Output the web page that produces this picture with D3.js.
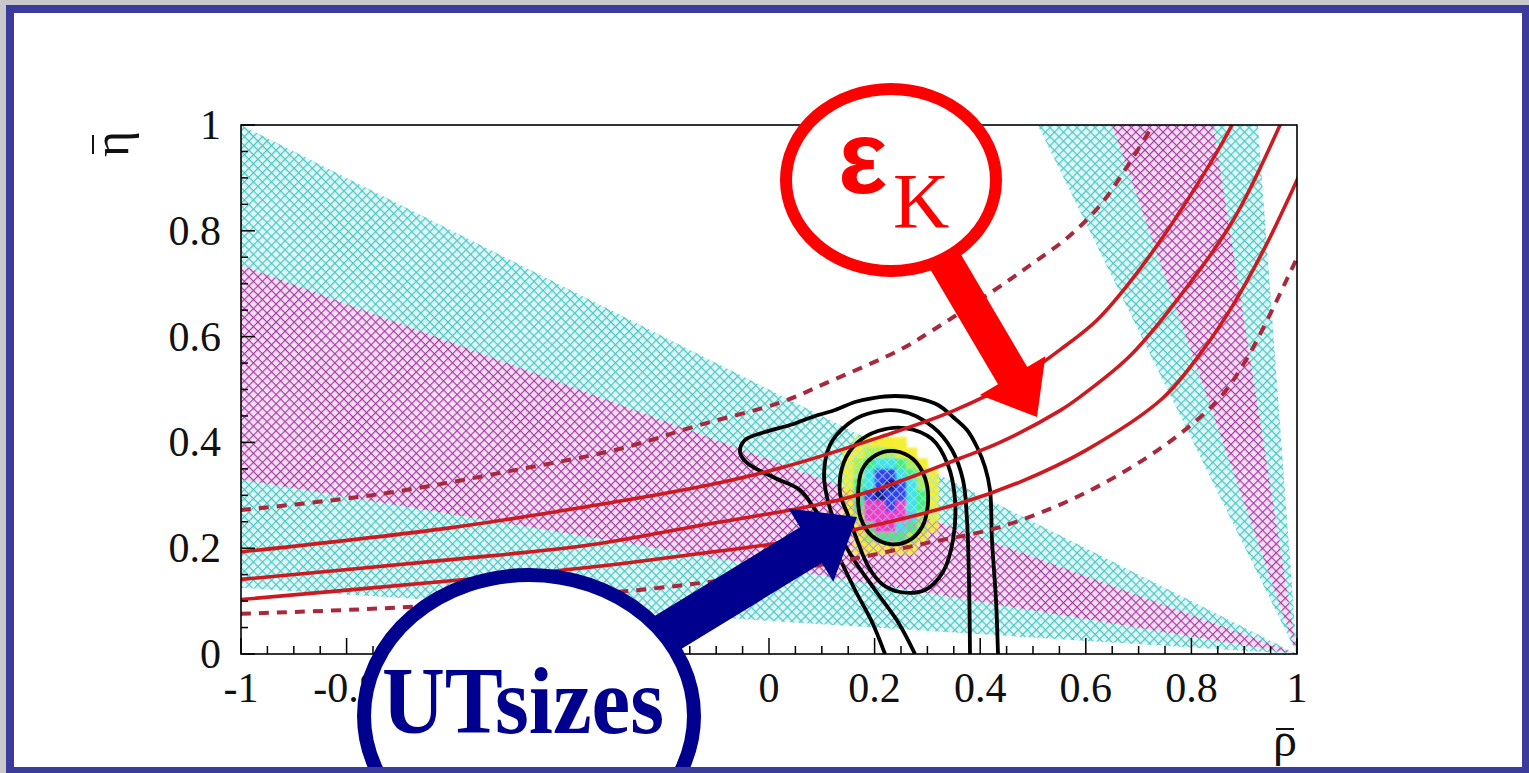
<!DOCTYPE html>
<html><head><meta charset="utf-8">
<script src="https://cdn.jsdelivr.net/npm/d3@7"></script>
<style>html,body{margin:0;padding:0;background:#c8c8cc;overflow:hidden}</style>
</head><body><svg id="c" width="1529" height="773"></svg>
<script>
// ---------------- data (rho-bar, eta-bar) ----------------
const xTickValues = [-1,-0.8,-0.6,-0.4,-0.2,0,0.2,0.4,0.6,0.8,1];
const xTickLabels = ["-1","-0.8","-0.6","-0.4","-0.2","0","0.2","0.4","0.6","0.8","1"];
const yTickValues = [0,0.2,0.4,0.6,0.8,1];
const yTickLabels = ["0","0.2","0.4","0.6","0.8","1"];

// sin2beta bands (95% cyan, 68% magenta), two-fold solutions
const beta95    = [[1,0],[-1,1.0],[-1,0.125]];
const beta68    = [[1,0],[-1,0.735],[-1,0.33]];
const betaAlt95 = [[1,0],[0.509,1],[0.926,1]];
const betaAlt68 = [[1,0],[0.65,1],[0.841,1]];

// epsilon_K curves
const epsKDashUpper = [[-1,0.272],[-0.739,0.302],[-0.479,0.348],[-0.282,0.388],[-0.131,0.433],[0.023,0.476],[0.11,0.513],[0.25,0.576],[0.31,0.612],[0.4375,0.695],[0.5,0.739],[0.564,0.786],[0.627,0.848],[0.678,0.921],[0.727,1.0],[0.76,1.06]];
const epsKSolid1 = [[-1,0.193],[-0.608,0.238],[-0.348,0.278],[-0.131,0.316],[0.023,0.352],[0.21,0.41],[0.35,0.46],[0.475,0.522],[0.551,0.575],[0.62,0.63],[0.689,0.71],[0.784,0.845],[0.877,1.0],[0.9,1.05]];
const epsKSolid2 = [[-1,0.141],[-0.608,0.178],[-0.348,0.205],[-0.131,0.243],[0.097,0.283],[0.2,0.31],[0.362,0.37],[0.4375,0.40],[0.551,0.46],[0.589,0.486],[0.68,0.56],[0.754,0.645],[0.879,0.82],[0.968,1.0],[0.99,1.05]];
const epsKSolid3 = [[-1,0.103],[-0.608,0.138],[-0.348,0.163],[-0.131,0.19],[0.097,0.222],[0.362,0.285],[0.475,0.325],[0.6,0.385],[0.745,0.483],[0.82,0.572],[0.879,0.66],[0.94,0.77],[0.996,0.887],[1.02,0.94]];
const epsKDashLower = [[-1,0.076],[-0.739,0.086],[-0.479,0.102],[-0.218,0.124],[-0.05,0.145],[0.15,0.178],[0.3,0.21],[0.4375,0.24],[0.6,0.305],[0.75,0.395],[0.85,0.48],[0.9,0.55],[0.943,0.63],[0.992,0.732],[1.01,0.77]];

// UTsizes probability contours (black)
const contour1 = [[0.2197,0],[0.1951,0.0605],[0.1629,0.121],[0.1307,0.1871],[0.1042,0.2439],[0.0814,0.2817],[0.0587,0.31],[0.0114,0.3327],[-0.0417,0.3611],[-0.0549,0.3819],[-0.0455,0.4045],[-0.0076,0.4197],[0.0398,0.4329],[0.0871,0.4499],[0.125,0.4612],[0.1629,0.4764],[0.197,0.4839],[0.2386,0.4877],[0.2803,0.4839],[0.3201,0.4707],[0.3485,0.448],[0.375,0.4234],[0.3939,0.3913],[0.4091,0.3535],[0.4186,0.31],[0.4223,0.2155],[0.4299,0.1021],[0.4337,0]];
const contour2 = [[0.2765,0],[0.2443,0.0605],[0.2008,0.121],[0.161,0.1777],[0.1345,0.225],[0.1136,0.2817],[0.1042,0.3384],[0.1155,0.3951],[0.1496,0.4348],[0.1856,0.4537],[0.2481,0.4594],[0.3106,0.4291],[0.3466,0.3856],[0.3674,0.3289],[0.375,0.2533],[0.3788,0.1399],[0.3807,0]];
const contour3 = [[0.1345,0.3043],[0.142,0.3629],[0.1667,0.3989],[0.2064,0.4216],[0.2576,0.4272],[0.3087,0.4064],[0.339,0.3573],[0.3523,0.2911],[0.3485,0.2155],[0.3295,0.155],[0.2955,0.121],[0.2481,0.1172],[0.214,0.1323],[0.1875,0.1664],[0.1667,0.2155],[0.1496,0.2628]];
const contour4 = [[0.1686,0.2968],[0.1761,0.3478],[0.2027,0.3762],[0.2386,0.3837],[0.2727,0.3686],[0.2955,0.3327],[0.3011,0.2854],[0.2898,0.2401],[0.2633,0.2136],[0.2292,0.2079],[0.1951,0.2231],[0.1742,0.2552]];

// combined probability 2D histogram (level per cell)
const blobRho0 = 0.14, blobEtaTop = 0.41, blobBin = 0.02;
const blobLevels = [
  [0,1,1,1,1,1,0,0,0],
  [1,1,2,2,2,1,1,0,0],
  [1,2,3,4,4,3,2,1,0],
  [1,2,4,6,6,4,3,2,1],
  [1,3,4,6,7,6,4,2,1],
  [1,3,6,7,6,6,4,3,1],
  [1,3,5,5,6,5,4,3,1],
  [1,2,5,5,5,5,4,2,1],
  [1,1,3,5,5,4,3,2,1],
  [0,1,2,3,3,3,2,1,0],
  [0,1,1,1,1,1,1,0,0]
];

// ---------------- drawing ----------------
const svg = d3.select('#c');
const x = d3.scaleLinear().domain([-1,1]).range([241,1297]);
const y = d3.scaleLinear().domain([0,1]).range([654,125]);
const defs = svg.append('defs');

function hatch(id, bg, fg, lw){
  const s = 6.4;
  const p = defs.append('pattern').attr('id',id).attr('patternUnits','userSpaceOnUse')
    .attr('width',s).attr('height',s).attr('patternTransform','rotate(45)');
  if (bg) p.append('rect').attr('width',s).attr('height',s).attr('fill',bg);
  p.append('rect').attr('width',s).attr('height',lw).attr('fill',fg);
  p.append('rect').attr('width',lw).attr('height',s).attr('fill',fg);
}
hatch('cyanH','#dcf8f8','#50c4c2',1.2);
hatch('magH','#f9dcf6','#9e3e9e',1.15);
hatch('cyanL',null,'#9aeaea',1.0);
hatch('magL',null,'#d070d0',1.0);

defs.append('clipPath').attr('id','plotClip').append('rect')
  .attr('x',x(-1)).attr('y',y(1)).attr('width',x(1)-x(-1)).attr('height',y(0)-y(1));
defs.append('clipPath').attr('id','innerClip').append('rect')
  .attr('x',14).attr('y',13).attr('width',1508).attr('height',754);
defs.append('filter').attr('id','soft').append('feGaussianBlur').attr('stdDeviation',1.3);

// frame
svg.append('rect').attr('x',0).attr('y',0).attr('width',1529).attr('height',773).attr('fill','#c8c8cc');
svg.append('rect').attr('x',6).attr('y',5).attr('width',1523).attr('height',768).attr('fill','#3b3b9c');
svg.append('rect').attr('x',14).attr('y',13).attr('width',1508).attr('height',754).attr('fill','#ffffff');

const plot = svg.append('g').attr('clip-path','url(#plotClip)');
const poly = d3.line().x(d=>x(d[0])).y(d=>y(d[1]));
const polyClosed = pts => poly(pts) + 'Z';

[[beta95,'cyanH'],[betaAlt95,'cyanH'],[beta68,'magH'],[betaAlt68,'magH']].forEach(([pts,id])=>{
  plot.append('path').attr('d',polyClosed(pts)).attr('fill',`url(#${id})`);
});

// 2D histogram blob
const blobColor = d3.scaleOrdinal().domain([1,2,3,4,5,6,7])
  .range(['#f6ee30','#b0f04a','#44f07a','#40e4e8','#f438c8','#3a3cf0','#14148c']);
const cells = [];
blobLevels.forEach((row,i)=>row.forEach((v,j)=>{ if(v>0) cells.push({r0:blobRho0+j*blobBin, e1:blobEtaTop-i*blobBin, v}); }));
const cellAttrs = sel => sel
  .attr('x',d=>x(d.r0)).attr('y',d=>y(d.e1))
  .attr('width',d=>x(d.r0+blobBin)-x(d.r0)+0.5).attr('height',d=>y(d.e1-blobBin)-y(d.e1)+0.5);
plot.append('g').attr('filter','url(#soft)').selectAll('rect').data(cells).join('rect')
  .call(cellAttrs).attr('fill',d=>blobColor(d.v));
const blobClip = defs.append('clipPath').attr('id','blobClip');
blobClip.selectAll('rect').data(cells).join('rect').call(cellAttrs);

// hatch lines over the histogram
const over = plot.append('g').attr('clip-path','url(#blobClip)');
[[beta95,'cyanL'],[beta68,'magL']].forEach(([pts,id])=>{
  over.append('path').attr('d',polyClosed(pts)).attr('fill',`url(#${id})`).attr('opacity',0.8);
});

// contours
const smooth = d3.line().x(d=>x(d[0])).y(d=>y(d[1])).curve(d3.curveCatmullRom.alpha(0.5));
const smoothClosed = d3.line().x(d=>x(d[0])).y(d=>y(d[1])).curve(d3.curveCatmullRomClosed.alpha(0.5));
[contour1,contour2].forEach(c=>plot.append('path').attr('d',smooth(c)).attr('fill','none').attr('stroke','#000').attr('stroke-width',3.8));
[contour3,contour4].forEach(c=>plot.append('path').attr('d',smoothClosed(c)).attr('fill','none').attr('stroke','#000').attr('stroke-width',3.8));

// eps_K curves
[epsKSolid1,epsKSolid2,epsKSolid3].forEach(c=>plot.append('path').attr('d',smooth(c)).attr('fill','none')
  .attr('stroke','#cc1a20').attr('stroke-width',3.6));
[epsKDashUpper,epsKDashLower].forEach(c=>plot.append('path').attr('d',smooth(c)).attr('fill','none')
  .attr('stroke','#a8283c').attr('stroke-width',4).attr('stroke-dasharray','10,8'));

// axes frame
const ax = svg.append('g').attr('stroke','#000');
ax.append('rect').attr('x',x(-1)).attr('y',y(1)).attr('width',x(1)-x(-1)).attr('height',y(0)-y(1))
  .attr('fill','none').attr('stroke-width',1.6);
const isMajor = d => Math.abs(Math.round(d*5)-d*5)<1e-6;
ax.selectAll('.xt').data(d3.range(-1,1.0001,0.05)).join('line')
  .attr('x1',d=>x(d)).attr('x2',d=>x(d)).attr('y1',y(0))
  .attr('y2',d=>y(0)-(isMajor(d)?16:8)).attr('stroke-width',1.5);
ax.selectAll('.yt').data(d3.range(0,1.0001,0.05)).join('line')
  .attr('y1',d=>y(d)).attr('y2',d=>y(d)).attr('x1',x(-1))
  .attr('x2',d=>x(-1)+(isMajor(d)?14:7)).attr('stroke-width',1.5);

// annotation geometry (magnifier glasses)
const utLens = {cx:529, cy:716, rx:165, ry:141, sw:14};
const ekLens = {cx:891, cy:180, rx:105, ry:91, sw:12};
const underLens = (px,py,L) => ((px-L.cx)/(L.rx+L.sw/2))**2 + ((py-L.cy)/(L.ry+L.sw/2))**2 < 1;

const serif = '"Liberation Serif","Times New Roman",serif';
const lab = svg.append('g').attr('font-family',serif).attr('font-size',42).attr('fill','#111');
const xLab = xTickValues.map((v,i)=>({v, t:xTickLabels[i]})).filter(d=>!underLens(x(d.v),688,utLens));
lab.selectAll('.xl').data(xLab).join('text')
  .attr('x',d=>x(d.v)).attr('y',702).attr('text-anchor','middle').text(d=>d.t);
lab.selectAll('.yl').data(yTickValues).join('text')
  .attr('x',221).attr('y',d=>y(d)+14).attr('text-anchor','end').text((d,i)=>yTickLabels[i]);
// axis titles (rho-bar, eta-bar)
lab.append('text').attr('x',1285).attr('y',756).attr('text-anchor','middle').attr('font-size',48).text('\u03C1');
lab.append('line').attr('x1',1276).attr('x2',1294).attr('y1',729).attr('y2',729).attr('stroke','#111').attr('stroke-width',2);
const eg = lab.append('g').attr('transform','translate(128,144) rotate(-90)');
eg.append('text').attr('text-anchor','middle').attr('font-size',50).text('\u03B7');
eg.append('line').attr('x1',-10).attr('x2',9).attr('y1',-35).attr('y2',-35).attr('stroke','#111').attr('stroke-width',2);

// annotations (magnifiers)
const ann = svg.append('g').attr('clip-path','url(#innerClip)');
function arrow(g, sx, sy, tx, ty, halfShaft, halfHead, headLen, color){
  const L = Math.hypot(tx-sx, ty-sy), ux=(tx-sx)/L, uy=(ty-sy)/L, px=-uy, py=ux;
  const bx = tx-headLen*ux, by = ty-headLen*uy;
  const pts = [[sx+halfShaft*px, sy+halfShaft*py],[bx+halfShaft*px, by+halfShaft*py],[bx+halfHead*px, by+halfHead*py],
               [tx,ty],[bx-halfHead*px, by-halfHead*py],[bx-halfShaft*px, by-halfShaft*py],[sx-halfShaft*px, sy-halfShaft*py]];
  g.append('path').attr('d','M'+pts.map(p=>p.join(',')).join('L')+'Z').attr('fill',color);
}
function lens(g, L, color){
  g.append('ellipse').attr('cx',L.cx).attr('cy',L.cy).attr('rx',L.rx).attr('ry',L.ry)
    .attr('fill','#fff').attr('stroke',color).attr('stroke-width',L.sw);
}
// eps_K
arrow(ann, 915, 210, 1037, 417, 17, 38, 48, '#ff0000');
lens(ann, ekLens, '#ff0000');
const ek = ann.append('text').attr('fill','#ff0000');
ek.append('tspan').attr('x',838).attr('y',193).attr('font-family','"Liberation Sans",Arial,sans-serif')
  .attr('font-weight','bold').attr('font-size',104).text('\u03B5');
ek.append('tspan').attr('x',893).attr('y',227).attr('font-family',serif)
  .attr('font-size',78).text('K');
// UTsizes
arrow(ann, 590, 680, 857, 517, 21, 43, 54, '#00008e');
lens(ann, utLens, '#00008e');
ann.append('text').attr('x',523).attr('y',733).attr('text-anchor','middle')
  .attr('font-family',serif).attr('font-weight','bold')
  .attr('font-size',96).attr('fill','#00008e').attr('textLength',282).attr('lengthAdjust','spacingAndGlyphs').text('UTsizes');
</script></body></html>
